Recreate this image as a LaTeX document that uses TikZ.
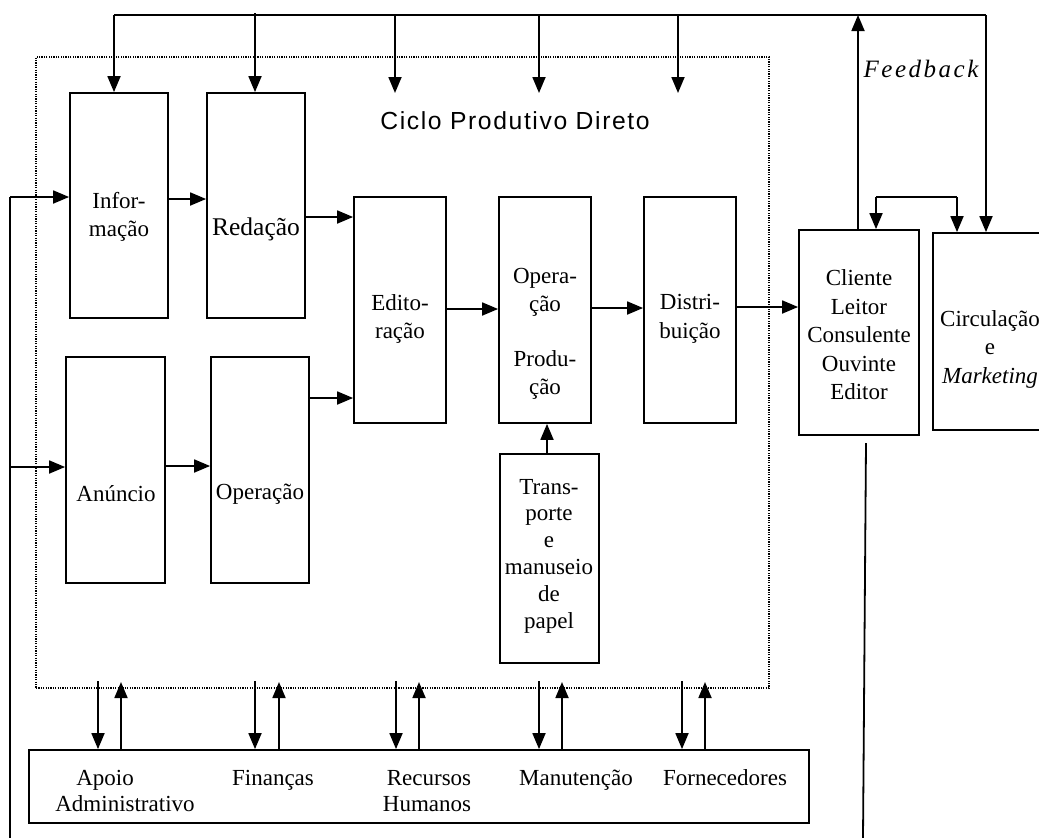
\documentclass[tikz,border=0pt]{standalone}
\usepackage{fontspec}
\setmainfont{Liberation Serif}
\newfontfamily\arialf{Liberation Sans}
\usetikzlibrary{arrows.meta}

\tikzset{
  box/.style={draw, line width=1.8pt, rectangle, inner sep=0pt},
  lbl/.style={align=center, inner sep=0pt, font=\fontsize{23}{28.5}\selectfont},
  flow/.style={line width=1.8pt, -{Triangle[length=16pt,width=13pt]}},
  plain/.style={line width=1.8pt},
  cycle/.style={line width=1.3pt, dash pattern=on 1.2pt off 1.2pt}
}

\begin{document}
\begin{tikzpicture}[x=1pt,y=-1pt]
\useasboundingbox (0,0) rectangle (1039,838);
\clip (0,0) rectangle (1039,838);

% dotted frame of the direct production cycle
\node[cycle, draw, rectangle, minimum width=733pt, minimum height=631pt, inner sep=0pt] (ciclo) at (402.5,372.5) {};
\node[inner sep=0pt, anchor=base] (ciclo-t) at (515,129)
  {\arialf\fontsize{24.7}{28}\selectfont\addfontfeature{LetterSpace=6.5}Ciclo Produtivo Direto};

% process boxes
\node[box, minimum width=98pt, minimum height=225pt] (info) at (119,205.5) {};
\node[box, minimum width=98pt, minimum height=225pt] (reda) at (256,205.5) {};
\node[box, minimum width=92pt, minimum height=226pt] (edit) at (400,310) {};
\node[box, minimum width=92pt, minimum height=226pt] (opro) at (545,310) {};
\node[box, minimum width=92pt, minimum height=226pt] (dist) at (690,310) {};
\node[box, minimum width=99pt, minimum height=226pt] (anun) at (115.5,470) {};
\node[box, minimum width=98pt, minimum height=226pt] (oper) at (260,470) {};
\node[box, minimum width=99pt, minimum height=209pt] (tran) at (549.5,558.5) {};
\node[box, minimum width=120pt, minimum height=205pt] (clie) at (859,332.5) {};
\node[box, minimum width=116pt, minimum height=197pt] (circ) at (991,331.5) {};
\node[box, minimum width=780pt, minimum height=73pt] (apoio) at (419,786.5) {};

% box labels
\node[lbl] (info-t) at (119,217) {Infor-\\mação};
\node[lbl, font=\fontsize{25.5}{30}\selectfont] (reda-t) at (256,229) {Redação};
\node[lbl] (edit-t) at (400,319) {Edito-\\ração};
\node[lbl] (opro-t) at (545,334) {Opera-\\ção\\[26pt]Produ-\\ção};
\node[lbl] (dist-t) at (690,319) {Distri-\\buição};
\node[lbl] (anun-t) at (116,494) {Anúncio};
\node[lbl] (oper-t) at (260,494) {Operação};
\node[lbl, font=\fontsize{23}{26.8}\selectfont] (tran-t) at (549,556) {Trans-\\porte\\e\\manuseio\\de\\papel};
\node[lbl] (clie-t) at (859,335) {Cliente\\Leitor\\Consulente\\Ouvinte\\Editor};
\node[lbl] (circ-t) at (990,349) {Circulação\\e\\\textit{Marketing}};
\node[inner sep=0pt, anchor=base] (feed-t) at (921,77)
  {\fontsize{25}{28}\selectfont\itshape\addfontfeature{LetterSpace=10}Feedback};

% support areas
\node[lbl, anchor=base] (apoio-a) at (105,785) {Apoio};
\node[lbl, anchor=base] (apoio-b) at (125,811) {Administrativo};
\node[lbl, anchor=base] (fina-t) at (273,785) {Finanças};
\node[lbl, anchor=base] (recu-a) at (429,785) {Recursos};
\node[lbl, anchor=base] (recu-b) at (427,811) {Humanos};
\node[lbl, anchor=base] (manu-t) at (576,785) {Manutenção};
\node[lbl, anchor=base] (forn-t) at (725,785) {Fornecedores};

% main flow
\draw[flow] (info.east |- 0,199) -- (reda.west |- 0,199);
\draw[flow] (reda.east |- 0,217) -- (edit.west |- 0,217);
\draw[flow] (anun.east |- 0,466) -- (oper.west |- 0,466);
\draw[flow] (oper.east |- 0,398) -- (edit.west |- 0,398);
\draw[flow] (edit.east |- 0,309) -- (opro.west |- 0,309);
\draw[flow] (opro.east |- 0,308) -- (dist.west |- 0,308);
\draw[flow] (dist.east |- 0,307) -- (clie.west |- 0,307);
\draw[flow] (tran.north -| 547,0) -- (opro.south -| 547,0);

% incoming line on the left
\coordinate (lb) at (10,838);
\coordinate (lt) at (10,197);
\coordinate (lm) at (10,467);
\draw[plain] (lb) -- (lt);
\draw[flow] (lt) -- (info.west |- lt);
\draw[flow] (lm) -- (anun.west |- lm);

% outgoing line on the right
\coordinate (rb) at (863,838);
\coordinate (rt) at (866,443);
\draw[plain] (rt) -- (rb);

% feedback loop along the top
\coordinate (t1) at (114,15);
\coordinate (t2) at (255,13);
\coordinate (t3) at (395,15);
\coordinate (t4) at (539,15);
\coordinate (t5) at (678,15);
\coordinate (t6) at (858,15);
\coordinate (t7) at (986,15);
\coordinate (e3) at (395,93);
\coordinate (e4) at (539,93);
\coordinate (e5) at (678,93);
\draw[plain] (t1) -- (t7);
\draw[flow] (t1) -- (info.north -| t1);
\draw[flow] (t2) -- (reda.north -| t2);
\draw[flow] (t3) -- (e3);
\draw[flow] (t4) -- (e4);
\draw[flow] (t5) -- (e5);
\draw[flow] (clie.north -| t6) -- (t6);
\draw[flow] (t7) -- (circ.north -| t7);

% link between client and circulation
\coordinate (c1) at (876,197);
\coordinate (c2) at (957,197);
\draw[plain] (c1) -- (c2);
\draw[flow] (c1) -- (clie.north -| c1);
\draw[flow] (c2) -- (circ.north -| c2);

% exchanges with the support areas
\foreach \d/\u in {98/121, 255/279, 396/419, 539/562, 682/705}{
  \draw[flow] (\d,681) -- (apoio.north -| \d,0);
  \draw[flow] (apoio.north -| \u,0) -- (\u,682);
}
\end{tikzpicture}
\end{document}
